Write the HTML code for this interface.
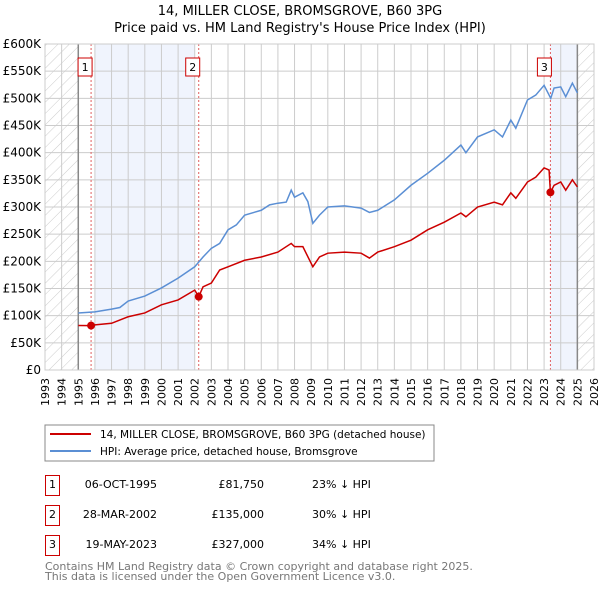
<!DOCTYPE html>
<html><head><meta charset="utf-8"><style>
body{margin:0;background:#fff;width:600px;height:590px;overflow:hidden;font-family:"DejaVu Sans","Liberation Sans",sans-serif;}
svg text{font-family:"DejaVu Sans","Liberation Sans",sans-serif;}
</style></head><body>
<svg id="chart" width="600" height="590">
<defs><pattern id="hatch" width="8" height="8" patternUnits="userSpaceOnUse" patternTransform="rotate(45)"><line x1="0" y1="0" x2="0" y2="8" stroke="#ccc" stroke-width="1"/></pattern></defs>
<text x="300" y="15" text-anchor="middle" font-size="13">14, MILLER CLOSE, BROMSGROVE, B60 3PG</text>
<text x="300" y="32" text-anchor="middle" font-size="13">Price paid vs. HM Land Registry's House Price Index (HPI)</text>
<g id="plot"></g>
<rect x="45" y="425" width="389" height="36" fill="#fff" stroke="#888"/>
<line x1="50" y1="434" x2="91" y2="434" stroke="#cc0000" stroke-width="2"/>
<text x="100" y="438" font-size="10.5">14, MILLER CLOSE, BROMSGROVE, B60 3PG (detached house)</text>
<line x1="50" y1="451" x2="91" y2="451" stroke="#5b8fd4" stroke-width="2"/>
<text x="100" y="455" font-size="10.5">HPI: Average price, detached house, Bromsgrove</text>
<g font-size="11">
<rect x="45.5" y="475.5" width="14" height="20" fill="none" stroke="#cc0000"/><text x="52.5" y="488" text-anchor="middle">1</text>
<text x="157" y="488" text-anchor="end">06-OCT-1995</text><text x="264" y="488" text-anchor="end">£81,750</text><text x="312" y="488">23% ↓ HPI</text>
<rect x="45.5" y="505.5" width="14" height="20" fill="none" stroke="#cc0000"/><text x="52.5" y="518" text-anchor="middle">2</text>
<text x="157" y="518" text-anchor="end">28-MAR-2002</text><text x="264" y="518" text-anchor="end">£135,000</text><text x="312" y="518">30% ↓ HPI</text>
<rect x="45.5" y="535.5" width="14" height="20" fill="none" stroke="#cc0000"/><text x="52.5" y="548" text-anchor="middle">3</text>
<text x="157" y="548" text-anchor="end">19-MAY-2023</text><text x="264" y="548" text-anchor="end">£327,000</text><text x="312" y="548">34% ↓ HPI</text>
</g>
<text x="45" y="570" font-size="11" fill="#777">Contains HM Land Registry data © Crown copyright and database right 2025.</text>
<text x="45" y="580" font-size="11" fill="#777">This data is licensed under the Open Government Licence v3.0.</text>
</svg>
<script>
const yTicks=[0,50,100,150,200,250,300,350,400,450,500,550,600];
const yTickLabels=["£0","£50K","£100K","£150K","£200K","£250K","£300K","£350K","£400K","£450K","£500K","£550K","£600K"];
const years=[1993,1994,1995,1996,1997,1998,1999,2000,2001,2002,2003,2004,2005,2006,2007,2008,2009,2010,2011,2012,2013,2014,2015,2016,2017,2018,2019,2020,2021,2022,2023,2024,2025,2026];
const hpiT=[1995,1996,1997,1997.5,1998,1999,2000,2001,2002,2002.5,2003,2003.5,2004,2004.5,2005,2006,2006.5,2007,2007.5,2007.8,2008,2008.5,2008.8,2009.1,2009.5,2010,2011,2012,2012.5,2013,2014,2015,2016,2017,2018,2018.3,2019,2020,2020.5,2021,2021.3,2022,2022.5,2023,2023.4,2023.6,2024,2024.3,2024.7,2025];
const hpiV=[105,107,112,115,127,136,151,169,190,208,224,233,258,267,285,294,304,307,309,331,318,326,310,270,285,300,302,298,290,294,313,340,362,386,414,400,429,442,429,460,445,497,506,524,500,519,521,503,528,510];
const ppT=[1995,1995.77,1996,1997,1998,1999,2000,2001,2002,2002.24,2002.5,2003,2003.5,2004,2005,2006,2007,2007.8,2008,2008.5,2009.1,2009.5,2010,2011,2012,2012.5,2013,2014,2015,2016,2017,2018,2018.3,2019,2020,2020.5,2021,2021.3,2022,2022.5,2023,2023.3,2023.38,2023.6,2024,2024.3,2024.7,2025];
const ppV=[82,81.75,83,86,98,105,120,129,147,135,153,160,184,190,202,208,217,233,227,227,190,208,215,217,215,206,217,227,239,258,272,289,282,300,309,304,326,316,346,355,372,368,327,340,346,331,350,337];
const saleT=[1995.77,2002.24,2023.38];
const saleV=[81.75,135,327];
const saleLabels=["1","2","3"];
const X0=45,X1=594,Y0=370,Y1=44;
const x=t=>X0+(t-1993)/(2026-1993)*(X1-X0);
const y=v=>Y0-v/600*(Y0-Y1);
const NS="http://www.w3.org/2000/svg";
const g=document.getElementById('plot');
function mk(tag,attrs){const e=document.createElementNS(NS,tag);for(const k in attrs)e.setAttribute(k,attrs[k]);g.appendChild(e);return e;}
let e;
e=mk('rect',{x:X0,y:Y1,width:x(1995)-X0,height:Y0-Y1,fill:'url(#hatch)'});


e=mk('rect',{x:x(2025),y:Y1,width:X1-x(2025),height:Y0-Y1,fill:'url(#hatch)'});


e=mk('rect',{x:x(1996),y:Y1,width:x(2002)-x(1996),height:Y0-Y1,fill:'#f0f4fd'});


e=mk('rect',{x:x(2023.38),y:Y1,width:x(2025)-x(2023.38),height:Y0-Y1,fill:'#f0f4fd'});


years.forEach(t=>{e=mk('line',{x1:x(t),x2:x(t),y1:Y1,y2:Y0,stroke:'#ccc','stroke-width':1});


e=mk('text',{x:0,y:0,transform:`translate(${x(t)+4},${Y0+8}) rotate(-90)`,'text-anchor':'end','font-size':11});
e.textContent=t;

});
yTicks.forEach((v,i)=>{e=mk('line',{x1:X0,x2:X1,y1:y(v),y2:y(v),stroke:'#ccc','stroke-width':1});


e=mk('text',{x:41,y:y(v)+4,'text-anchor':'end','font-size':12});
e.textContent=yTickLabels[i];

});
[1995,2025].forEach(t=>{e=mk('line',{x1:x(t),x2:x(t),y1:Y1,y2:Y0,stroke:'#888','stroke-width':1.5});

});
saleT.forEach((t,i)=>{e=mk('line',{x1:x(t),x2:x(t),y1:Y1,y2:Y0,stroke:'#e06060','stroke-width':1,'stroke-dasharray':'2,2'});


e=mk('rect',{x:x(t)-13,y:58,width:14,height:18,fill:'#fff',stroke:'#cc0000'});


e=mk('text',{x:x(t)-6,y:71,'text-anchor':'middle','font-size':11});
e.textContent=saleLabels[i];

});
e=mk('polyline',{points:hpiT.map((t,i)=>x(t)+','+y(hpiV[i])).join(' '),fill:'none',stroke:'#5b8fd4','stroke-width':1.5});


e=mk('polyline',{points:ppT.map((t,i)=>x(t)+','+y(ppV[i])).join(' '),fill:'none',stroke:'#cc0000','stroke-width':1.5});


saleT.forEach((t,i)=>{e=mk('circle',{cx:x(t),cy:y(saleV[i]),r:4,fill:'#cc0000'});

});
e=mk('rect',{x:X0,y:Y1,width:X1-X0,height:Y0-Y1,fill:'none',stroke:'#ccc'});


</script>
</body></html>
